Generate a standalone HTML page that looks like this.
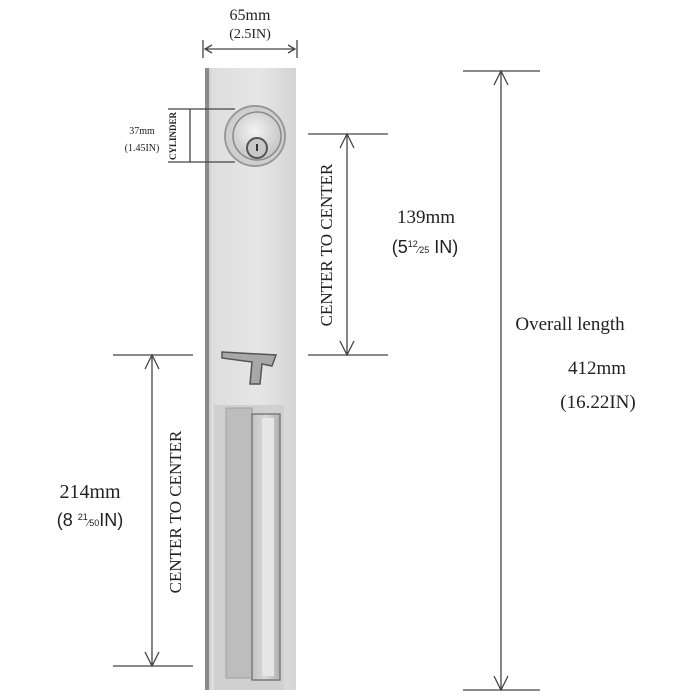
<!DOCTYPE html>
<html><head><style>html,body{margin:0;padding:0;background:#fff}svg{display:block}</style></head><body>
<svg width="700" height="700" viewBox="0 0 700 700" xmlns="http://www.w3.org/2000/svg" font-family="Liberation Serif, serif">
<defs>
<linearGradient id="pl" x1="0" x2="1" y1="0" y2="0">
<stop offset="0" stop-color="#b8b8b8"/><stop offset="0.08" stop-color="#dedede"/><stop offset="0.6" stop-color="#e6e6e6"/><stop offset="1" stop-color="#d4d4d4"/>
</linearGradient>
<linearGradient id="gr" x1="0" x2="1">
<stop offset="0" stop-color="#c4c4c4"/><stop offset="0.5" stop-color="#d8d8d8"/><stop offset="1" stop-color="#b0b0b0"/>
</linearGradient>
<radialGradient id="cy" cx="0.45" cy="0.4" r="0.6"><stop offset="0" stop-color="#f4f4f4"/><stop offset="1" stop-color="#c4c4c4"/></radialGradient>
</defs>
<rect x="205" y="68" width="91" height="622" fill="url(#pl)"/>
<rect x="205" y="68" width="4" height="622" fill="#8a8a8a"/>
<circle cx="255" cy="136" r="30" fill="#cfcfcf" stroke="#9a9a9a" stroke-width="2"/>
<circle cx="257" cy="136" r="24" fill="url(#cy)" stroke="#8a8a8a" stroke-width="1.5"/>
<circle cx="257" cy="148" r="10" fill="#c8c8c8" stroke="#555" stroke-width="2"/>
<path d="M257 144 v7" stroke="#333" stroke-width="2"/>
<path d="M222 352 L276 355 L272 366 L262 364 L260 384 L250 384 L252 362 L222 358 Z" fill="#a8a8a8" stroke="#555" stroke-width="1.5"/>
<rect x="214" y="405" width="70" height="285" fill="#d0d0d0"/>
<rect x="226" y="408" width="26" height="270" fill="#bdbdbd" stroke="#a0a0a0"/>
<rect x="252" y="414" width="28" height="266" fill="url(#gr)" stroke="#7a7a7a" stroke-width="1.5"/>
<rect x="262" y="418" width="12" height="258" fill="#e6e6e6"/>
<g stroke="#444" stroke-width="1.3" fill="none">
<path d="M203 40 v18 M297 40 v18 M205 49 H295 M212 45 l-7 4 7 4 M288 45 l7 4 -7 4"/>
<path d="M168 109 H235 M168 162 H235 M190 109 V162"/>
<path d="M308 134 H388 M308 355 H388 M347 134 V355 M340 148 l7 -14 7 14 M340 341 l7 14 7 -14"/>
<path d="M463 71 H540 M463 690 H540 M501 71 V690 M494 85 l7 -14 7 14 M494 676 l7 14 7 -14"/>
<path d="M113 355 H193 M113 666 H193 M152 355 V666 M145 369 l7 -14 7 14 M145 652 l7 14 7 -14"/>
</g>
<g fill="#222">
<text x="250" y="20" font-size="16" text-anchor="middle">65mm</text>
<text x="250" y="38" font-size="14" text-anchor="middle">(2.5IN)</text>
<text x="142" y="134" font-size="10" text-anchor="middle">37mm</text>
<text x="142" y="151" font-size="10" text-anchor="middle">(1.45IN)</text>
<text transform="translate(176,136) rotate(-90)" font-size="9" text-anchor="middle" font-weight="bold">CYLINDER</text>
<text transform="translate(332,245) rotate(-90)" font-size="17" text-anchor="middle">CENTER TO CENTER</text>
<text x="426" y="223" font-size="19" text-anchor="middle">139mm</text>
<text x="425" y="253" font-size="18" text-anchor="middle" font-family="Liberation Sans, sans-serif">(5<tspan font-size="9" dy="-6">12</tspan><tspan font-size="9" dy="6">⁄25</tspan> IN)</text>
<text x="570" y="330" font-size="19" text-anchor="middle">Overall length</text>
<text x="597" y="374" font-size="19" text-anchor="middle">412mm</text>
<text x="598" y="408" font-size="19" text-anchor="middle">(16.22IN)</text>
<text transform="translate(181,512) rotate(-90)" font-size="17" text-anchor="middle">CENTER TO CENTER</text>
<text x="90" y="498" font-size="20" text-anchor="middle">214mm</text>
<text x="90" y="526" font-size="18" text-anchor="middle" font-family="Liberation Sans, sans-serif">(8 <tspan font-size="9" dy="-6">21</tspan><tspan font-size="9" dy="6">⁄50</tspan>IN)</text>
</g>
</svg>
</body></html>
